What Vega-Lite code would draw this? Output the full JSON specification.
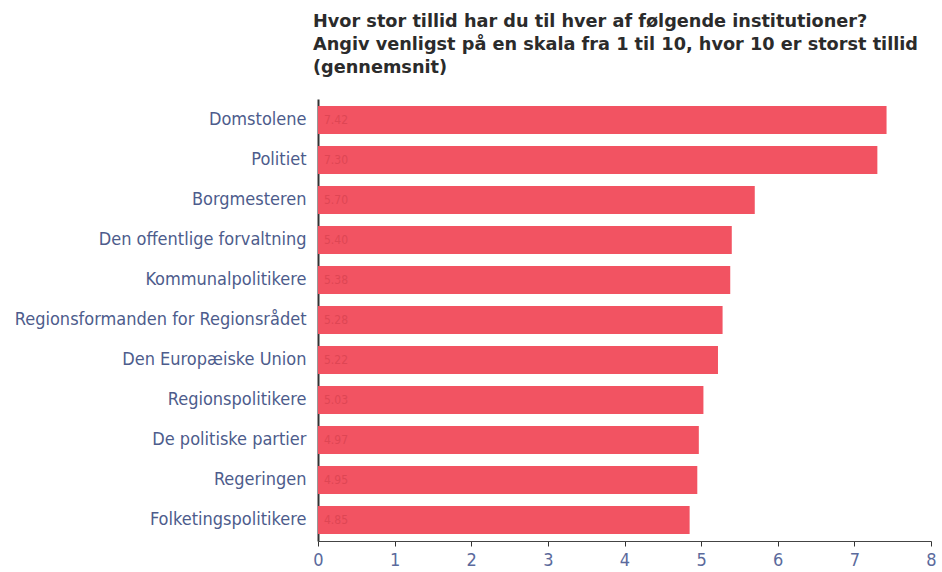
{
  "$schema": "https://vega.github.io/schema/vega-lite/v6.json",
  "width": 613,
  "height": 442,
  "autosize": {"type": "none"},
  "padding": {"left": 318, "top": 99, "right": 11, "bottom": 31},
  "background": "#ffffff",
  "view": {"stroke": null},
  "title": {
    "text": ["Hvor stor tillid har du til hver af følgende institutioner?", "Angiv venligst på en skala fra 1 til 10, hvor 10 er storst tillid", "(gennemsnit)"],
    "anchor": "start",
    "frame": "group",
    "dx": -5,
    "offset": 22,
    "font": "DejaVu Sans",
    "fontSize": 17.7,
    "fontWeight": "bold",
    "color": "#2b2b2b",
    "lineHeight": 23
  },
  "data": {
    "values": [
      {"institution": "Domstolene", "value": 7.42},
      {"institution": "Politiet", "value": 7.30},
      {"institution": "Borgmesteren", "value": 5.70},
      {"institution": "Den offentlige forvaltning", "value": 5.40},
      {"institution": "Kommunalpolitikere", "value": 5.38},
      {"institution": "Regionsformanden for Regionsrådet", "value": 5.28},
      {"institution": "Den Europæiske Union", "value": 5.22},
      {"institution": "Regionspolitikere", "value": 5.03},
      {"institution": "De politiske partier", "value": 4.97},
      {"institution": "Regeringen", "value": 4.95},
      {"institution": "Folketingspolitikere", "value": 4.85}
    ]
  },
  "encoding": {
    "y": {
      "field": "institution",
      "type": "nominal",
      "sort": null,
      "scale": {"paddingInner": 0.3, "paddingOuter": 0.175},
      "axis": {
        "title": null,
        "ticks": false,
        "labelFont": "DejaVu Sans Condensed",
        "labelFontSize": 18,
        "labelColor": "#4d5c8c",
        "labelPadding": 12,
        "labelLimit": 400,
        "domainColor": "#333333",
        "domainWidth": 2
      }
    }
  },
  "layer": [
    {
      "mark": {"type": "bar", "color": "#f25362"},
      "encoding": {
        "x": {
          "field": "value",
          "type": "quantitative",
          "scale": {"domain": [0, 8], "nice": false},
          "axis": {
            "title": null,
            "grid": false,
            "values": [0, 1, 2, 3, 4, 5, 6, 7, 8],
            "format": "d",
            "labelOverlap": false,
            "labelFont": "DejaVu Sans Condensed",
            "labelFontSize": 18,
            "labelColor": "#5b6a9c",
            "labelPadding": 5,
            "domainColor": "#444444",
            "tickColor": "#333333",
            "tickSize": 5,
            "labelFlush": false
          }
        }
      }
    },
    {
      "mark": {"type": "text", "align": "left", "dx": 6, "fontSize": 12, "color": "#de4654", "font": "DejaVu Sans Condensed"},
      "encoding": {
        "x": {"datum": 0, "type": "quantitative"},
        "text": {"field": "value", "type": "quantitative", "format": ".2f"}
      }
    }
  ]
}
